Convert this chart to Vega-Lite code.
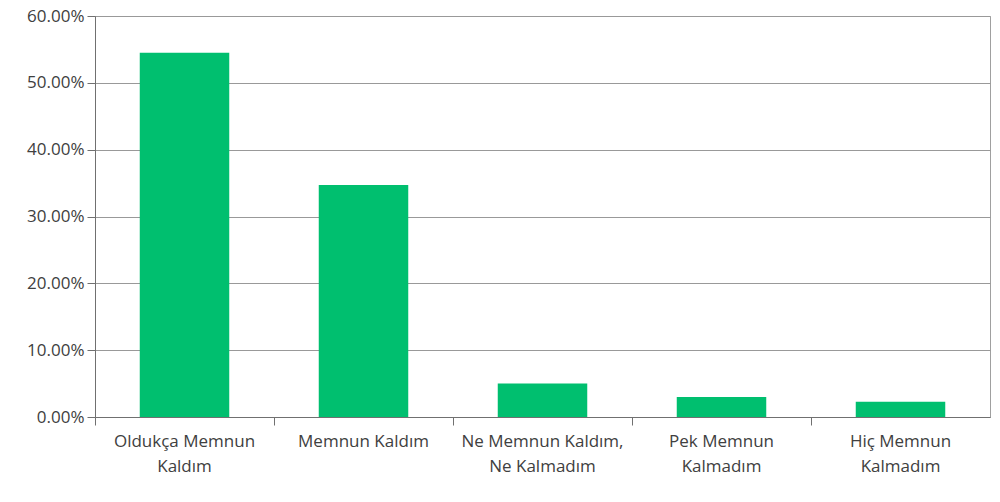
{
  "$schema": "https://vega.github.io/schema/vega-lite/v6.json",
  "autosize": "none",
  "width": 895,
  "height": 401,
  "padding": {"left": 95, "top": 16, "right": 10, "bottom": 85},
  "background": "#ffffff",
  "config": {
    "font": "Open Sans",
    "view": {"stroke": "#a0a0a0", "strokeWidth": 1},
    "axis": {"labelFont": "Open Sans", "labelColor": "#404040", "labelFontSize": 17}
  },
  "data": {
    "values": [
      {"kategori": "Oldukça Memnun Kaldım", "oran": 0.545},
      {"kategori": "Memnun Kaldım", "oran": 0.347},
      {"kategori": "Ne Memnun Kaldım, Ne Kalmadım", "oran": 0.050},
      {"kategori": "Pek Memnun Kalmadım", "oran": 0.030},
      {"kategori": "Hiç Memnun Kalmadım", "oran": 0.023}
    ]
  },
  "mark": {"type": "bar", "color": "#00bf6f", "width": {"band": 0.5}},
  "encoding": {
    "x": {
      "field": "kategori",
      "type": "nominal",
      "sort": null,
      "scale": {"paddingInner": 0, "paddingOuter": 0},
      "axis": {
        "title": null,
        "labelAngle": 0,
        "bandPosition": 0,
        "tickSize": 8,
        "tickColor": "#707070",
        "domainColor": "#707070",
        "labelPadding": 8,
        "labelLineHeight": 25,
        "labelLimit": 220,
        "labelBaseline": "top",
        "labelExpr": "datum.value == 'Oldukça Memnun Kaldım' ? ['Oldukça Memnun', 'Kaldım'] : datum.value == 'Ne Memnun Kaldım, Ne Kalmadım' ? ['Ne Memnun Kaldım,', 'Ne Kalmadım'] : datum.value == 'Pek Memnun Kalmadım' ? ['Pek Memnun', 'Kalmadım'] : datum.value == 'Hiç Memnun Kalmadım' ? ['Hiç Memnun', 'Kalmadım'] : datum.value",
        "grid": false
      }
    },
    "y": {
      "field": "oran",
      "type": "quantitative",
      "scale": {"domain": [0, 0.6], "nice": false},
      "axis": {
        "title": null,
        "format": ".2%",
        "values": [0, 0.1, 0.2, 0.3, 0.4, 0.5, 0.6],
        "tickSize": 8,
        "tickColor": "#707070",
        "domainColor": "#707070",
        "gridColor": "#999999",
        "labelPadding": 3
      }
    }
  }
}
